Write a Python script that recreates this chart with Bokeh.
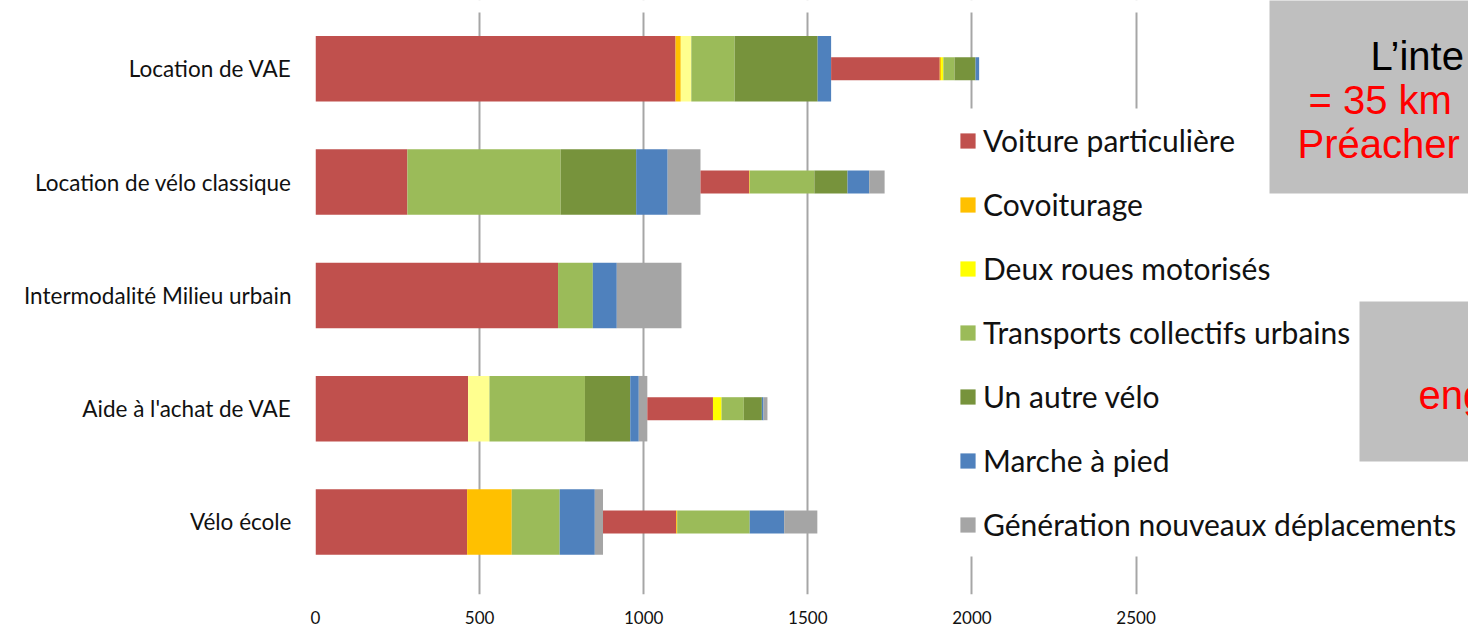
import numpy as np
from bokeh.plotting import figure
from bokeh.models import (Range1d, FixedTicker, Legend, LegendItem, BoxAnnotation,
                          Label, ColumnDataSource)
from bokeh.embed import file_html
from bokeh.resources import INLINE

categories = ["Location de VAE", "Location de vélo classique",
              "Intermodalité Milieu urbain", "Aide à l'achat de VAE", "Vélo école"]

modes = ["Voiture particulière", "Covoiturage", "Deux roues motorisés",
         "Transports collectifs urbains", "Un autre vélo", "Marche à pied",
         "Génération nouveaux déplacements"]

# first (wide) stack, per mode, one value per category
voiture_a = [1097, 280, 739, 465, 462]
covoit_a = [16, 0, 0, 0, 136]
deuxroues_a = [32, 0, 0, 65, 0]
tc_a = [132, 467, 106, 291, 146]
velo_a = [253, 230, 0, 138, 0]
marche_a = [41, 96, 73, 26, 107]
gen_a = [0, 100, 197, 26, 25]

# second (thin) stack, continuing after the first
voiture_b = [331, 148, 0, 200, 223]
covoit_b = [4, 2, 0, 0, 3]
deuxroues_b = [7, 0, 0, 26, 0]
tc_b = [34, 197, 0, 68, 221]
velo_b = [64, 101, 0, 55, 0]
marche_b = [11, 66, 0, 5, 105]
gen_b = [0, 47, 0, 12, 101]

x_ticks = [0, 500, 1000, 1500, 2000, 2500]

colors = ["#C0504D", "#FFC000", "#FFFF00", "#9BBB59", "#77933C", "#4F81BD", "#A5A5A5"]
colors_a = ["#C0504D", "#FFC000", "#FFFF8F", "#9BBB59", "#77933C", "#4F81BD", "#A5A5A5"]

A = np.array([voiture_a, covoit_a, deuxroues_a, tc_a, velo_a, marche_a, gen_a], dtype=float)
B = np.array([voiture_b, covoit_b, deuxroues_b, tc_b, velo_b, marche_b, gen_b], dtype=float)

n = len(categories)
ypos = np.arange(n)[::-1].astype(float)

right_a = np.cumsum(A, axis=0)
left_a = right_a - A
base = A.sum(axis=0)
right_b = base + np.cumsum(B, axis=0)
left_b = right_b - B

p = figure(width=1468, height=629, output_backend="svg", toolbar_location=None,
           x_range=Range1d(0, 3513), y_range=Range1d(-0.640, 4.603),
           min_border_left=315, min_border_right=0, min_border_top=0, min_border_bottom=35)
p.outline_line_color = None
p.background_fill_color = "white"
p.border_fill_color = "white"

renderers_b = []
for j in range(len(modes)):
    src_a = ColumnDataSource(dict(y=ypos, left=left_a[j], right=right_a[j]))
    p.hbar(y="y", left="left", right="right", height=0.578, source=src_a,
           fill_color=colors_a[j], line_color=None)
for j in range(len(modes)):
    src_b = ColumnDataSource(dict(y=ypos, left=left_b[j], right=right_b[j]))
    r = p.hbar(y="y", left="left", right="right", height=0.203, source=src_b,
               fill_color=colors[j], line_color=None)
    renderers_b.append(r)

# axes
p.xaxis.ticker = FixedTicker(ticks=x_ticks)
p.xgrid.ticker = FixedTicker(ticks=x_ticks)
p.xgrid.grid_line_color = "#a6a6a6"
p.xgrid.grid_line_width = 2
p.ygrid.visible = False

for ax in (p.xaxis, p.yaxis):
    ax.axis_line_color = None
    ax.major_tick_line_color = None
    ax.minor_tick_line_color = None
    ax.major_tick_out = 0
    ax.major_tick_in = 0
    ax.major_label_text_font = "Lato"
    ax.major_label_text_color = "#111111"

p.xaxis.major_label_text_font_size = "17px"
p.xaxis.major_label_standoff = 16
p.yaxis.ticker = FixedTicker(ticks=list(range(n)))
p.yaxis.major_label_overrides = {int(ypos[i]): categories[i] for i in range(n)}
p.yaxis.major_label_text_font_size = "22.5px"
p.yaxis.major_label_standoff = 24

def screen_box(left, right, bottom, top, color):
    return BoxAnnotation(left=left, right=right, bottom=bottom, top=top,
                         left_units="screen", right_units="screen",
                         bottom_units="screen", top_units="screen",
                         fill_color=color, fill_alpha=1.0, line_color=None)

# top strip above the plot area (grid lines start a little below the top)
p.add_layout(screen_box(-10, 954, 582, 640, "white"))
# white area behind the legend (hides the grid lines there)
p.add_layout(screen_box(636, 1300, 38, 486, "white"))
# grey overlay boxes of the slide
p.add_layout(screen_box(954, 1300, 401, 640, "#BFBFBF"))
p.add_layout(screen_box(1044, 1300, 133, 293, "#BFBFBF"))

for txt, x, y, col in [("L’inte", 1055, 539, "black"),
                       ("= 35 km", 993, 495, "#FF0000"),
                       ("Préacher", 982, 451, "#FF0000"),
                       ("eng", 1103, 200, "#FF0000")]:
    p.add_layout(Label(x=x, y=y, x_units="screen", y_units="screen", text=txt,
                       text_font="Liberation Sans", text_font_size="40px",
                       text_color=col, text_baseline="alphabetic", text_align="left"))

legend = Legend(items=[LegendItem(label=modes[j], renderers=[renderers_b[j]]) for j in range(len(modes))],
                location=(643, 52), orientation="vertical",
                glyph_width=19, glyph_height=19, label_standoff=6,
                spacing=28, padding=0, margin=0,
                label_text_font="Lato", label_text_font_size="30px",
                label_text_color="#111111",
                background_fill_alpha=0.0,
                border_line_color=None)
p.add_layout(legend, "center")

open("out.html", "w").write(file_html(p, INLINE))
